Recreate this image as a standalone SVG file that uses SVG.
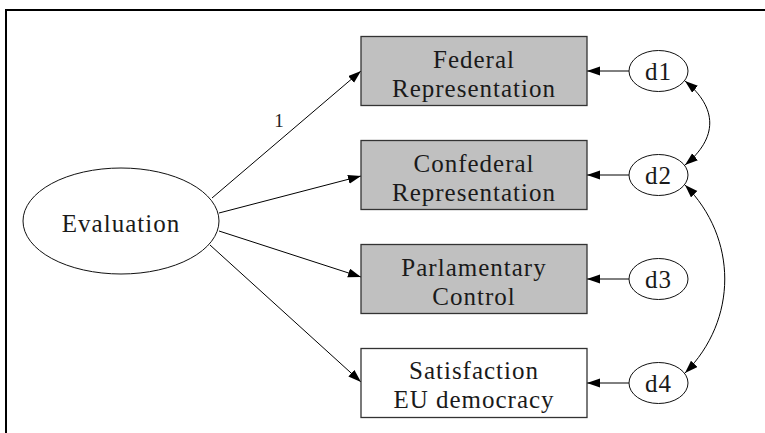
<svg xmlns="http://www.w3.org/2000/svg" width="765" height="433" viewBox="0 0 765 433">
  <style>
    .frame { fill: none; stroke: #000; stroke-width: 2; }
    .box { stroke: #333; stroke-width: 1.3; }
    .obs { fill: #c0c0c0; }
    .obs-plain { fill: #fff; }
    .ell { fill: #fff; stroke: #111; stroke-width: 1; }
    .lbl { font-family: "Liberation Serif", "Times New Roman", serif; font-size: 25px; letter-spacing: 1px; fill: #1a1a1a; text-anchor: middle; }
    .small { font-family: "Liberation Serif", "Times New Roman", serif; font-size: 19px; fill: #222; text-anchor: middle; }
    .edge { fill: none; stroke: #000; stroke-width: 1; }
  </style>
  <defs>
    <marker id="arrow" markerUnits="userSpaceOnUse" markerWidth="14" markerHeight="10" refX="13" refY="4.5" orient="auto-start-reverse">
      <path d="M0,0 L13,4.5 L0,9 z" fill="#000"/>
    </marker>
  </defs>

  <rect width="765" height="433" fill="#fff"/>
  <path class="frame" d="M6,433 V10 H765"/>

  <g id="connectors">
    <line class="edge" x1="212" y1="198" x2="361" y2="71" marker-end="url(#arrow)"/>
    <line class="edge" x1="219" y1="213" x2="361" y2="176" marker-end="url(#arrow)"/>
    <line class="edge" x1="219" y1="231" x2="361" y2="277" marker-end="url(#arrow)"/>
    <line class="edge" x1="210" y1="245" x2="361" y2="382" marker-end="url(#arrow)"/>
    <text class="small" x="279" y="127">1</text>

    <line class="edge" x1="629" y1="71" x2="587" y2="71" marker-end="url(#arrow)"/>
    <line class="edge" x1="629" y1="175" x2="587" y2="175" marker-end="url(#arrow)"/>
    <line class="edge" x1="629" y1="279" x2="587" y2="279" marker-end="url(#arrow)"/>
    <line class="edge" x1="629" y1="383" x2="587" y2="383" marker-end="url(#arrow)"/>

    <path class="edge" d="M685,81 C718,108 718,138 685,165" marker-start="url(#arrow)" marker-end="url(#arrow)"/>
    <path class="edge" d="M685,185 C738,238 738,320 685,373" marker-start="url(#arrow)" marker-end="url(#arrow)"/>
  </g>

  <g id="evaluation">
    <ellipse class="ell" cx="121" cy="221" rx="98" ry="53"/>
    <text class="lbl" x="121" y="232">Evaluation</text>
  </g>

  <g id="federal">
    <rect class="box obs" x="361" y="36.5" width="226" height="69"/>
    <text class="lbl" x="474" y="68">Federal</text>
    <text class="lbl" x="474" y="97">Representation</text>
  </g>
  <g id="confederal">
    <rect class="box obs" x="361" y="140.5" width="226" height="69"/>
    <text class="lbl" x="474" y="172">Confederal</text>
    <text class="lbl" x="474" y="201">Representation</text>
  </g>
  <g id="parlamentary">
    <rect class="box obs" x="361" y="244.5" width="226" height="69"/>
    <text class="lbl" x="474" y="276">Parlamentary</text>
    <text class="lbl" x="474" y="305">Control</text>
  </g>
  <g id="satisfaction">
    <rect class="box obs-plain" x="361" y="348.5" width="226" height="69"/>
    <text class="lbl" x="474" y="379">Satisfaction</text>
    <text class="lbl" x="474" y="408">EU democracy</text>
  </g>

  <g id="d1">
    <ellipse class="ell" cx="658.5" cy="71" rx="29.5" ry="20.5"/>
    <text class="lbl" x="658.5" y="80">d1</text>
  </g>
  <g id="d2">
    <ellipse class="ell" cx="658.5" cy="175" rx="29.5" ry="20.5"/>
    <text class="lbl" x="658.5" y="184">d2</text>
  </g>
  <g id="d3">
    <ellipse class="ell" cx="658.5" cy="279" rx="29.5" ry="20.5"/>
    <text class="lbl" x="658.5" y="288">d3</text>
  </g>
  <g id="d4">
    <ellipse class="ell" cx="658.5" cy="383" rx="29.5" ry="20.5"/>
    <text class="lbl" x="658.5" y="392">d4</text>
  </g>
</svg>
